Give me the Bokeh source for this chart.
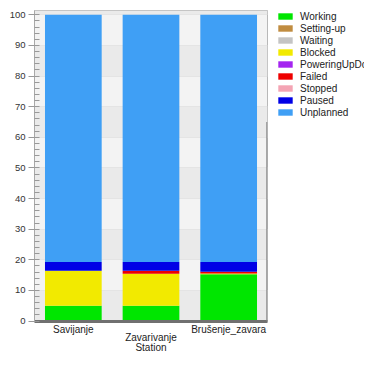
from bokeh.plotting import figure
from bokeh.layouts import row
from bokeh.models import (FactorRange, Range1d, Legend, LegendItem, BoxAnnotation,
                          FixedTicker, ColumnDataSource, CustomJSTickFormatter)
from bokeh.embed import file_html
from bokeh.resources import INLINE

stations = ["Savijanje", "Zavarivanje", "Brušenje_zavara"]
# staggered tick labels as shown under the bars
station_labels = ["Savijanje", "\nZavarivanje", "Brušenje_zavara"]
x_title = "Station"
states = ["Working", "Setting-up", "Waiting", "Blocked", "PoweringUpDown",
          "Failed", "Stopped", "Paused", "Unplanned"]
colors = ["#00e600", "#c08c40", "#c4c4c4", "#f2ea00", "#a424f0",
          "#ee0000", "#f4a4b4", "#0000e6", "#3f9ff5"]

working = [5.0, 5.0, 15.3]
setting_up = [0.0, 0.0, 0.0]
waiting = [0.0, 0.0, 0.0]
blocked = [11.4, 10.4, 0.2]
powering = [0.0, 0.0, 0.0]
failed = [0.0, 1.0, 0.6]
stopped = [0.0, 0.0, 0.0]
paused = [2.9, 2.9, 3.2]
unplanned = [80.7, 80.7, 80.7]

y_ticks = [0, 10, 20, 30, 40, 50, 60, 70, 80, 90, 100]
y_minor = list(range(0, 101, 2))

series = [working, setting_up, waiting, blocked, powering, failed, stopped, paused, unplanned]
data = {"station": stations}
for s, v in zip(states, series):
    data[s] = v
source = ColumnDataSource(data)

FONT = "Liberation Sans"

p = figure(x_range=FactorRange(*stations, range_padding=0),
           y_range=Range1d(-0.16, 101.41),
           width=275, height=356, output_backend="svg", toolbar_location=None,
           min_border_left=34, min_border_top=10, min_border_right=8,
           min_border_bottom=22)

renderers = p.vbar_stack(states, x="station", width=0.73, color=colors,
                         line_width=0, source=source)

p.background_fill_color = "#f3f3f3"
p.border_fill_color = "white"
p.outline_line_color = "#b8b8b8"

p.xgrid.grid_line_color = None
p.ygrid.ticker = FixedTicker(ticks=y_ticks)
p.ygrid.grid_line_color = "#e4e4e4"
p.ygrid.band_fill_color = "#eaeaea"
p.ygrid.band_fill_alpha = 1.0

yax = p.yaxis[0]
yax.ticker = FixedTicker(ticks=y_ticks, minor_ticks=y_minor)
yax.major_tick_out = 6
yax.major_tick_in = 0
yax.minor_tick_in = 5
yax.minor_tick_out = 0
yax.axis_line_color = "#a8a8a8"
yax.major_tick_line_color = "#999999"
yax.minor_tick_line_color = "#999999"
yax.major_label_text_font = FONT
yax.major_label_text_font_size = "9.5px"
yax.major_label_text_color = "#333333"
yax.major_label_standoff = 3

xax = p.xaxis[0]
xax.formatter = CustomJSTickFormatter(args=dict(names=stations, shown=station_labels),
                                      code="const i = names.indexOf(tick); return i >= 0 ? shown[i] : tick;")
xax.axis_line_color = "#707070"
xax.axis_line_width = 3
xax.major_tick_out = 0
xax.major_tick_in = 0
xax.major_label_text_font = FONT
xax.major_label_text_font_size = "10px"
xax.major_label_text_line_height = 0.8
xax.major_label_text_color = "#222222"
xax.major_label_standoff = 2
xax.axis_label = x_title
xax.axis_label_standoff = -4
xax.axis_label_text_font = FONT
xax.axis_label_text_font_size = "10px"
xax.axis_label_text_line_height = 0.8
xax.axis_label_text_font_style = "normal"
xax.axis_label_text_color = "#222222"

p.add_layout(BoxAnnotation(top=65, bottom=-0.16, left=2.985, right=3.0,
                           fill_color="#808080", fill_alpha=1.0, line_color=None))

# legend panel: the same stacked series (hidden) so the legend can sit beside the plot
q = figure(x_range=FactorRange(*stations), y_range=Range1d(0, 100),
           width=89, height=356, output_backend="svg", toolbar_location=None,
           x_axis_type=None, y_axis_type=None,
           min_border_left=1, min_border_right=0, min_border_top=9, min_border_bottom=0)
q.outline_line_color = None
q.background_fill_color = None
q.border_fill_color = "white"
lr = q.vbar_stack(states, x="station", width=0.73, color=colors, line_width=0, source=source)
for r in lr:
    r.visible = False

items = [LegendItem(label=s, renderers=[r]) for s, r in zip(states, lr)]
legend = Legend(items=items, location="top_left", glyph_width=18, glyph_height=8,
                label_height=12, label_width=40, spacing=0, padding=0, margin=0,
                label_standoff=6, label_text_font=FONT, label_text_font_size="10px",
                label_text_color="#222222", border_line_color=None,
                background_fill_alpha=0.0, inactive_fill_alpha=0.0)
q.add_layout(legend)

layout = row(p, q, spacing=0)
open("out.html", "w").write(file_html(layout, INLINE))
